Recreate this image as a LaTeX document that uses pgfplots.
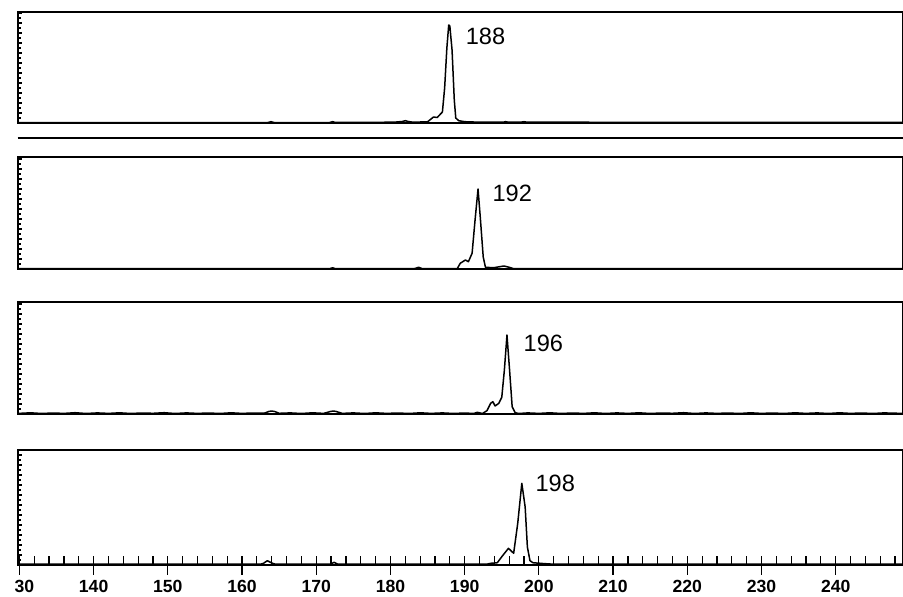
\documentclass[border=0pt]{standalone}
\usepackage{fontspec}
\setmainfont{Liberation Sans}
\usepackage{pgfplots}
\pgfplotsset{compat=1.18}

% 1px of the reference = 0.5pt here
\pgfplotsset{
  panel/.style={
    scale only axis, width=442.1pt, anchor=south west,
    xmin=129.85, xmax=249, ymin=0,
    axis line style={line width=0.9pt},
    xtick=\empty,
    ytick distance=10, minor y tick num=1,
    yticklabels={}, ytick pos=left, tick align=inside,
    major tick length=2pt, minor tick length=1.5pt,
    tick style={black, line width=0.6pt},
    clip=false,
  },
  xover/.style={
    scale only axis, width=442.1pt, height=57.5pt, anchor=south west,
    at={(9.15pt,15.5pt)},
    xmin=129.85, xmax=249, ymin=0, ymax=115,
    axis line style={draw=none}, ytick=\empty, xtick pos=bottom,
    tick style={black, line width=0.6pt},
  },
  trace/.style={black, line width=0.75pt, no marks, line join=round},
}
\tikzset{peaklabel/.style={anchor=west, inner sep=0pt, font=\fontsize{11.8}{13}\selectfont}}

\begin{document}
\begin{tikzpicture}
\useasboundingbox (0,0) rectangle (451.5pt,298pt);

% panel 1
\begin{axis}[panel, height=55.5pt, ymax=111, at={(9.15pt,236.5pt)}]
\addplot[trace] coordinates {
(129.9,0.5) (163.5,0.5) (163.9,1.3) (164.3,0.5) (171.8,0.5) (172.2,1.3) (172.6,0.5)
(180.5,0.8) (181.6,1.5) (182.0,2.3) (182.4,1.5) (183,0.8) (185,1.2) (185.8,6) (186.3,5.5)
(187.0,11) (187.3,35) (187.6,75) (187.85,98) (188.0,97) (188.3,73) (188.6,23) (188.8,5)
(189.2,2.3) (190,1.3) (192,0.8) (195.2,0.8) (195.5,1.3) (195.9,0.8) (197.5,0.8) (198,1.3)
(198.4,0.8) (249,0.5)};
\node[peaklabel] at (axis cs:190.1,87) {188};
\end{axis}

\draw[line width=1pt] (8.75pt,229pt) -- (451.5pt,229pt);

% panel 2
\begin{axis}[panel, height=56pt, ymax=112, at={(9.15pt,163.5pt)}]
\addplot[trace] coordinates {
(129.9,0.3) (171.8,0.3) (172.2,1.2) (172.6,0.3) (183.2,0.3) (183.8,1.7) (184.3,0.3)
(189.0,0.3) (189.4,5.7) (190.1,9) (190.5,7.3) (191.0,15.7) (191.4,49) (191.8,80)
(192.1,52) (192.5,12) (192.8,1.7) (193.9,1.3) (195.3,3) (196.2,1.3) (196.6,0.3) (249,0.3)};
\node[peaklabel] at (axis cs:193.7,75.7) {192};
\end{axis}

% panel 3
\begin{axis}[panel, height=56pt, ymax=112, at={(9.15pt,91pt)}]
\addplot[trace] coordinates {
(129.9,0.6) (131.5,1.2) (133,0.5) (134.5,1.0) (136,0.6) (137.5,1.3) (139,0.5) (140.5,1.1)
(142,0.6) (143.5,1.2) (145,0.5) (146.5,1.0) (148,0.7) (149.5,1.3) (151,0.5) (152.5,1.1)
(154,0.6) (155.5,1.0) (157,0.5) (158.5,1.2) (160,0.6) (161.5,1.0) (163,0.8) (163.6,2.5)
(164,3) (164.4,2.5) (165,0.7) (166.5,1.1) (168,0.5) (169.5,1.2) (171,0.6) (171.9,2.5)
(172.3,3) (172.7,2.5) (173.5,0.6) (175,1.1) (176.5,0.5) (178,1.2) (179.5,0.6) (181,1.0)
(182.5,0.5) (184,1.2) (185.5,0.6) (187,1.1) (188.5,0.5) (190,1.0) (191.2,0.5) (191.7,1.7)
(192.4,0.5) (193.0,3.3) (193.5,10.7) (193.8,12.3) (194.1,8) (194.6,10.7) (195.0,16.7)
(195.35,44) (195.7,79) (196.05,44) (196.4,7.3) (196.8,1.3) (197.3,0.5) (198.5,1.1)
(200,0.6) (201.5,1.2) (203,0.5) (204.5,1.0) (206,0.6) (207.5,1.2) (209,0.5) (210.5,1.1)
(212,0.6) (213.5,1.2) (215,0.5) (216.5,1.0) (218,0.7) (219.5,1.3) (221,0.5) (222.5,1.1)
(224,0.6) (225.5,1.0) (227,0.5) (228.5,1.2) (230,0.6) (231.5,1.0) (233,0.5) (234.5,1.2)
(236,0.6) (237.5,1.1) (239,0.5) (240.5,1.2) (242,0.6) (243.5,1.0) (245,0.5) (246.5,1.1)
(249,0.6)};
\node[peaklabel] at (axis cs:197.9,70.7) {196};
\end{axis}

% panel 4
\begin{axis}[panel, height=57.5pt, ymax=115, at={(9.15pt,15.5pt)}]
\addplot[trace] coordinates {
(129.9,0.8) (162.5,0.8) (162.9,1.7) (163.4,4.3) (164.1,1.7) (164.5,0.8) (171.9,0.8)
(172.4,2.7) (172.9,0.8) (193.0,0.8) (193.5,1.7) (194.4,2.3) (195.0,8.3) (195.9,16.7)
(196.6,11.7) (197.15,41.7) (197.7,81.7) (198.15,58) (198.45,18) (198.8,4.3) (199.2,2.3)
(200.5,1.5) (202,0.8) (249,0.8)};
\node[peaklabel] at (axis cs:199.5,81.7) {198};
\end{axis}
\begin{axis}[xover, xtick={130,132,...,248}, xticklabels={}, tick align=inside,
  major tick length=4.5pt]
\end{axis}
\begin{axis}[xover, xtick={130,140,...,240}, tick align=center, major tick length=9.5pt,
  xticklabels={\phantom{1}30,140,150,160,170,180,190,200,210,220,230,240},
  xticklabel style={font=\bfseries\fontsize{8.8}{10}\selectfont, yshift=0.8pt}]
\end{axis}
\end{tikzpicture}
\end{document}
